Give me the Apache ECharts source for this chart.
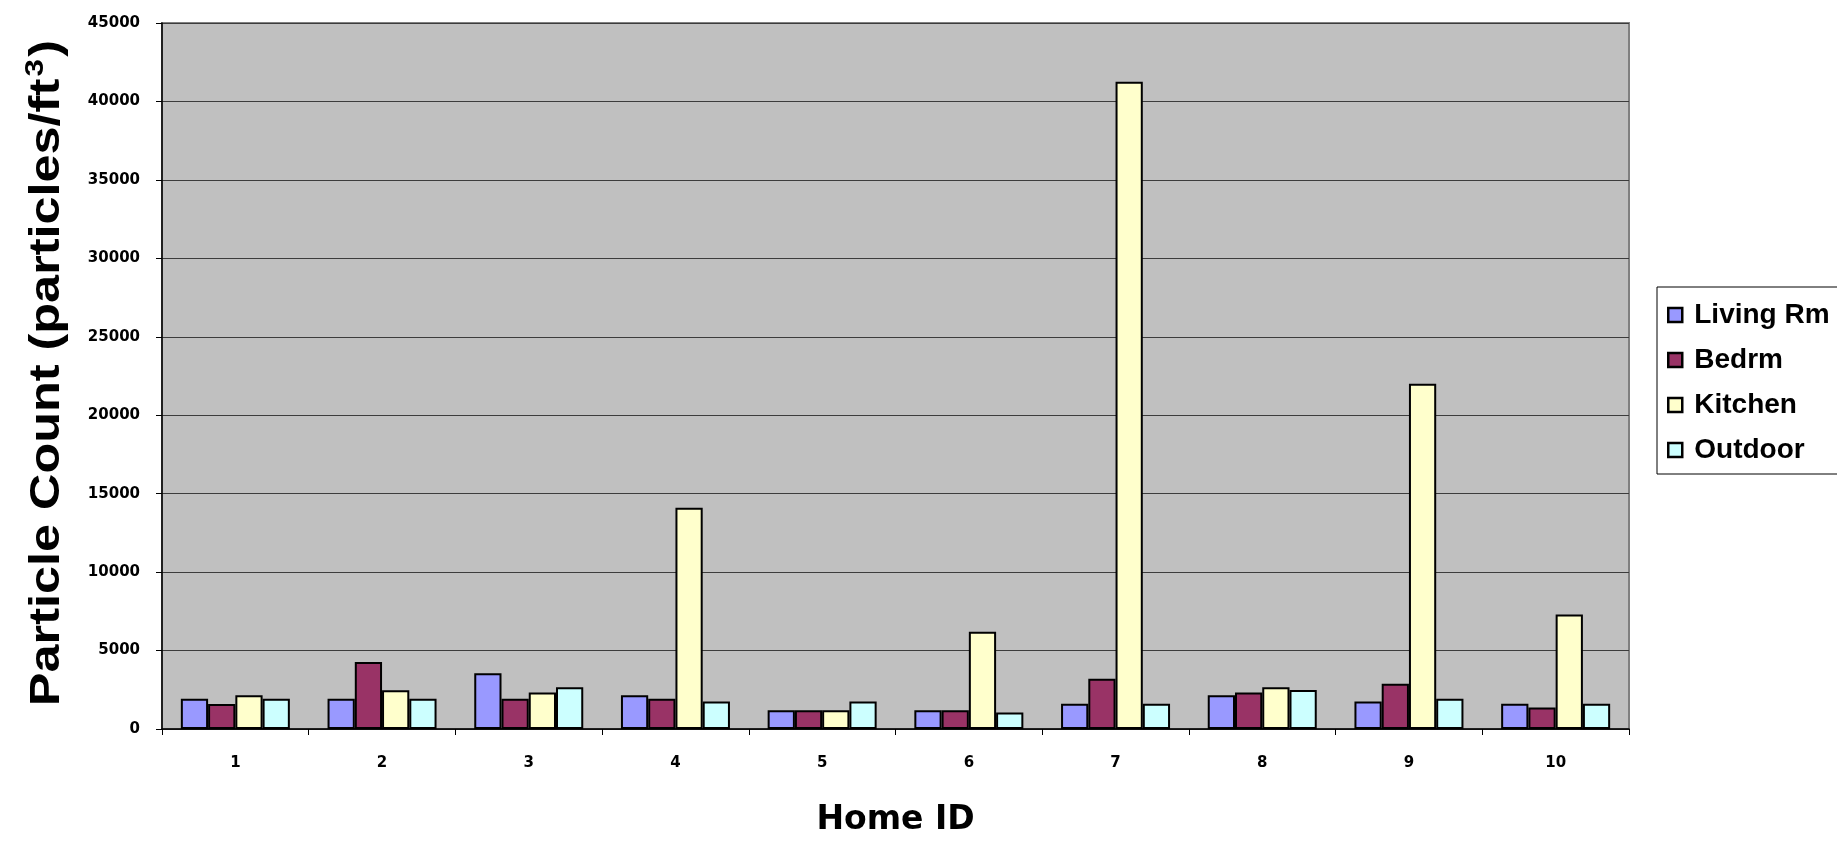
<!DOCTYPE html>
<html>
<head>
<meta charset="utf-8">
<script src="https://cdn.jsdelivr.net/npm/echarts@6/dist/echarts.min.js"></script>
<style>
  html, body { margin: 0; padding: 0; background: #ffffff; }
  #chart { width: 1837px; height: 842px; }
</style>
</head>
<body>
<div id="chart"></div>
<script>
const homeIds = ['1', '2', '3', '4', '5', '6', '7', '8', '9', '10'];
const seriesNames = ['Living Rm', 'Bedrm', 'Kitchen', 'Outdoor'];
const livingRm = [1930, 1930, 3560, 2150, 1200, 1200, 1610, 2150, 1760, 1610];
const bedrm    = [1590, 4270, 1930, 1930, 1200, 1200, 3200, 2320, 2880, 1370];
const kitchen  = [2150, 2470, 2320, 14100, 1200, 6200, 41250, 2660, 22000, 7300];
const outdoor  = [1930, 1930, 2660, 1760, 1760, 1050, 1610, 2490, 1930, 1610];
const yTicks = { min: 0, max: 45000, interval: 5000 };
const xTitle = 'Home ID';
const yTitleMain = 'Particle Count (particles/ft';
const yTitleSup = '3';
const yTitleEnd = ')';

const colors = ['#9999FF', '#993366', '#FFFFCC', '#CCFFFF'];
const seriesData = [livingRm, bedrm, kitchen, outdoor];
const FONT = '"Liberation Sans", Arial, sans-serif';
const WIDE = '"DejaVu Sans", sans-serif';

const chart = echarts.init(document.getElementById('chart'), null, { renderer: 'canvas' });

const option = {
  backgroundColor: '#ffffff',
  animation: false,
  grid: {
    left: 162, top: 23, width: 1467, height: 714,
    show: true,
    backgroundColor: '#C0C0C0',
    borderColor: '#808080',
    borderWidth: 2
  },
  legend: {
    orient: 'vertical',
    left: 1657,
    top: 287,
    data: seriesNames,
    icon: 'rect',
    itemWidth: 14,
    itemHeight: 14,
    itemGap: 17,
    padding: [14, 120, 10, 10],
    backgroundColor: '#ffffff',
    borderColor: '#000000',
    borderWidth: 1,
    borderRadius: 0,
    itemStyle: { borderColor: '#000000', borderWidth: 2.5 },
    textStyle: {
      fontFamily: FONT,
      fontWeight: 'bold',
      fontSize: 28,
      color: '#000000',
      padding: [0, 0, 0, 7],
      lineHeight: 28
    }
  },
  xAxis: {
    type: 'category',
    data: homeIds,
    name: xTitle,
    nameLocation: 'middle',
    nameGap: 75,
    nameTextStyle: {
      fontFamily: WIDE,
      fontWeight: 'bold',
      fontSize: 33,
      color: '#000000'
    },
    axisLine: { show: true, lineStyle: { color: '#000000', width: 1.5 } },
    axisTick: { show: true, length: 6, alignWithLabel: false, lineStyle: { color: '#000000', width: 1 } },
    axisLabel: {
      margin: 27,
      fontFamily: WIDE,
      fontWeight: 'bold',
      fontSize: 15,
      color: '#000000'
    },
    splitLine: { show: false }
  },
  yAxis: {
    type: 'value',
    min: yTicks.min,
    max: yTicks.max,
    interval: yTicks.interval,
    axisLine: { show: true, lineStyle: { color: '#000000', width: 1.5 } },
    axisTick: { show: true, length: 6, lineStyle: { color: '#000000', width: 1 } },
    axisLabel: {
      margin: 22,
      fontFamily: WIDE,
      fontWeight: 'bold',
      fontSize: 15,
      color: '#000000',
      formatter: function (v) { return String(v); }
    },
    splitLine: { show: true, lineStyle: { color: '#3c3c3c', width: 1.2 } }
  },
  series: seriesNames.map((name, i) => ({
    name: name,
    type: 'bar',
    data: seriesData[i],
    barGap: '0%',
    barCategoryGap: '25.7%',
    itemStyle: {
      color: colors[i],
      borderColor: '#000000',
      borderWidth: 2
    }
  })),
  graphic: [
    {
      type: 'text',
      x: 47,
      y: 373,
      rotation: Math.PI / 2,
      scaleX: 1.2,
      style: {
        text: '{a|' + yTitleMain + '}{s|' + yTitleSup + '}{a|' + yTitleEnd + '}',
        align: 'center',
        verticalAlign: 'middle',
        fill: '#000000',
        rich: {
          a: { fontFamily: FONT, fontWeight: 'bold', fontSize: 42, lineHeight: 48, fill: '#000000' },
          s: { fontFamily: FONT, fontWeight: 'bold', fontSize: 26, lineHeight: 48, verticalAlign: 'top', fill: '#000000', padding: [0, 2, 14, 2] }
        }
      }
    }
  ]
};

chart.setOption(option);
</script>
</body>
</html>
